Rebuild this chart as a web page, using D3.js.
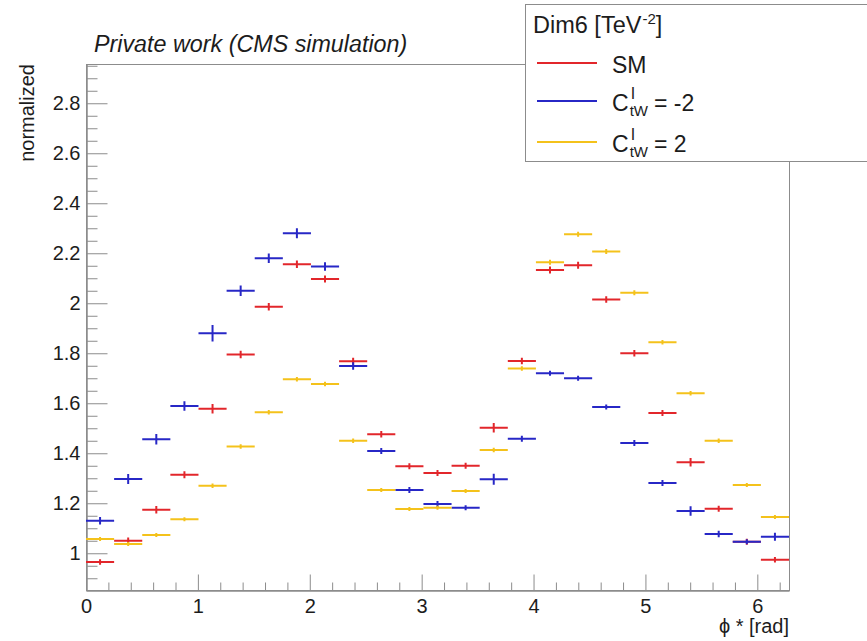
<!DOCTYPE html>
<html>
<head>
<meta charset="utf-8">
<script src="https://cdn.jsdelivr.net/npm/d3@7"></script>
<style>
  body { margin: 0; background: #fff; }
  svg { display: block; font-family: "Liberation Sans", Arial, Helvetica, sans-serif; }
</style>
</head>
<body>
<svg width="867" height="641"></svg>
<script>
// 25 bins over phi* in [0, 2pi]
const nBins = 25;
const xMax = 2 * Math.PI;

const smVals = [0.965, 1.050, 1.174, 1.314, 1.578, 1.795, 1.986, 2.156, 2.097, 1.768, 1.476, 1.348, 1.321,
  1.350, 1.502, 1.769, 2.133, 2.152, 2.015, 1.800, 1.561, 1.364, 1.178, 1.046, 0.974];
const smErr = [0.011, 0.013, 0.015, 0.014, 0.019, 0.015, 0.015, 0.015, 0.014, 0.014, 0.013, 0.012, 0.012,
  0.012, 0.019, 0.013, 0.014, 0.014, 0.013, 0.013, 0.012, 0.017, 0.012, 0.012, 0.011];

const minusVals = [1.130, 1.297, 1.456, 1.589, 1.880, 2.050, 2.180, 2.280, 2.147, 1.749, 1.409, 1.253, 1.197,
  1.182, 1.296, 1.458, 1.720, 1.700, 1.585, 1.441, 1.281, 1.169, 1.077, 1.046, 1.066];
const minusErr = [0.015, 0.020, 0.021, 0.019, 0.033, 0.021, 0.019, 0.020, 0.017, 0.015, 0.012, 0.012, 0.012,
  0.010, 0.022, 0.012, 0.010, 0.010, 0.010, 0.012, 0.012, 0.019, 0.013, 0.010, 0.016];

const plusVals = [1.057, 1.037, 1.073, 1.136, 1.270, 1.427, 1.564, 1.696, 1.677, 1.450, 1.253, 1.177, 1.182,
  1.249, 1.413, 1.739, 2.164, 2.276, 2.207, 2.042, 1.844, 1.640, 1.450, 1.273, 1.145];
const plusErr = [0.008, 0.008, 0.008, 0.008, 0.009, 0.009, 0.009, 0.009, 0.009, 0.009, 0.008, 0.008, 0.008,
  0.008, 0.009, 0.009, 0.010, 0.010, 0.010, 0.010, 0.009, 0.009, 0.009, 0.008, 0.008];

const yMajorTicks = [1, 1.2, 1.4, 1.6, 1.8, 2, 2.2, 2.4, 2.6, 2.8];
const xMajorTicks = [0, 1, 2, 3, 4, 5, 6];

const series = [
  { name: 'SM', vals: smVals, err: smErr, color: '#e2262b' },
  { name: '-2', vals: minusVals, err: minusErr, color: '#2727c6' },
  { name: '2', vals: plusVals, err: plusErr, color: '#f4c21b' }
];

const frame = { left: 86, right: 789, top: 64, bottom: 590 };
const frameCol = '#8c8c8c';
const textCol = '#1c1c1c';

const svg = d3.select('svg');

const x = d3.scaleLinear().domain([0, xMax]).range([frame.left, frame.right]);
const y = d3.scaleLinear().domain([0.853, 2.957]).range([frame.bottom, frame.top]);

// frame
svg.append('rect')
  .attr('x', frame.left + 0.5).attr('y', frame.top + 0.5)
  .attr('width', frame.right - frame.left).attr('height', frame.bottom - frame.top)
  .attr('fill', 'none').attr('stroke', frameCol);

// minor ticks
const xMinor = d3.range(0, 6.3, 0.2).filter(v => Math.abs(v - Math.round(v)) > 1e-6);
const yMinor = d3.range(0.9, 2.96, 0.05).filter(v => Math.abs(v * 5 - Math.round(v * 5)) > 1e-6);

const xMinorAxis = svg.append('g')
  .attr('transform', `translate(0,${frame.bottom + 0.5})`)
  .call(d3.axisBottom(x).tickValues(xMinor).tickSizeInner(-8).tickSizeOuter(0).tickFormat(''));
const yMinorAxis = svg.append('g')
  .attr('transform', `translate(${frame.left + 0.5},0)`)
  .call(d3.axisLeft(y).tickValues(yMinor).tickSizeInner(-11).tickSizeOuter(0).tickFormat(''));

const xAxis = svg.append('g')
  .attr('transform', `translate(0,${frame.bottom + 0.5})`)
  .call(d3.axisBottom(x).tickValues(xMajorTicks).tickSizeInner(-16).tickSizeOuter(0).tickPadding(8)
    .tickFormat(d => String(d)));
const yAxis = svg.append('g')
  .attr('transform', `translate(${frame.left + 0.5},0)`)
  .call(d3.axisLeft(y).tickValues(yMajorTicks).tickSizeInner(-21).tickSizeOuter(0).tickPadding(6)
    .tickFormat(d => String(+d.toFixed(1))));

[xMinorAxis, yMinorAxis, xAxis, yAxis].forEach(g => {
  g.selectAll('.domain').attr('stroke', frameCol);
  g.selectAll('.tick line').attr('stroke', frameCol);
  g.selectAll('text').attr('font-size', 20).attr('fill', textCol)
    .attr('font-family', '"Liberation Sans", Arial, sans-serif');
});

// axis titles
svg.append('text')
  .attr('x', frame.right).attr('y', 633)
  .attr('text-anchor', 'end').attr('font-size', 20).attr('fill', textCol)
  .text('\u03d5 * [rad]');
svg.append('text')
  .attr('transform', `translate(34,${frame.top}) rotate(-90)`)
  .attr('text-anchor', 'end').attr('font-size', 20).attr('fill', textCol)
  .text('normalized');

// plot title
svg.append('text')
  .attr('x', 94).attr('y', 52)
  .attr('font-size', 23.3).attr('font-style', 'italic').attr('fill', textCol)
  .text('Private work (CMS simulation)');

// histograms with error crosses
const bw = xMax / nBins;
series.forEach(s => {
  const g = svg.append('g').attr('stroke', s.color).attr('stroke-width', 2);
  const pts = s.vals.map((v, i) => ({ lo: i * bw, hi: (i + 1) * bw, mid: (i + 0.5) * bw, v, e: s.err[i] }));
  g.selectAll('.h').data(pts).enter().append('line')
    .attr('x1', d => x(d.lo)).attr('x2', d => x(d.hi))
    .attr('y1', d => y(d.v)).attr('y2', d => y(d.v));
  g.selectAll('.v').data(pts).enter().append('line')
    .attr('x1', d => x(d.mid)).attr('x2', d => x(d.mid))
    .attr('y1', d => y(d.v - d.e)).attr('y2', d => y(d.v + d.e));
});

// legend
const leg = svg.append('g');
leg.append('rect')
  .attr('x', 525.5).attr('y', 4.5).attr('width', 400).attr('height', 157)
  .attr('fill', '#fff').attr('stroke', frameCol);

const title = leg.append('text').attr('x', 533).attr('y', 33).attr('font-size', 23.5).attr('fill', textCol);
title.append('tspan').text('Dim6 [TeV');
title.append('tspan').attr('font-size', 15).attr('dy', -9).attr('dx', 1).text('-2');
title.append('tspan').attr('dy', 9).text(']');

const rowY = [63, 101, 142];
series.forEach((s, i) => {
  leg.append('line')
    .attr('x1', 537).attr('x2', 597).attr('y1', rowY[i]).attr('y2', rowY[i])
    .attr('stroke', s.color).attr('stroke-width', 2);
  const base = rowY[i] + 10;
  if (i === 0) {
    leg.append('text').attr('x', 612).attr('y', base).attr('font-size', 23).attr('fill', textCol).text(s.name);
  } else {
    const c = leg.append('text').attr('x', 612).attr('y', base).attr('font-size', 23).attr('fill', textCol).text('C');
    const cw = c.node().getComputedTextLength();
    const sx = 612 + cw + 1;
    leg.append('text').attr('x', sx + 1).attr('y', base - 12).attr('font-size', 16).attr('fill', textCol).text('I');
    const sub = leg.append('text').attr('x', sx).attr('y', base + 5).attr('font-size', 15).attr('fill', textCol).text('tW');
    const sw = sub.node().getComputedTextLength();
    leg.append('text').attr('x', sx + sw + 6).attr('y', base).attr('font-size', 23).attr('fill', textCol)
      .text('= ' + s.name);
  }
});
</script>
</body>
</html>
